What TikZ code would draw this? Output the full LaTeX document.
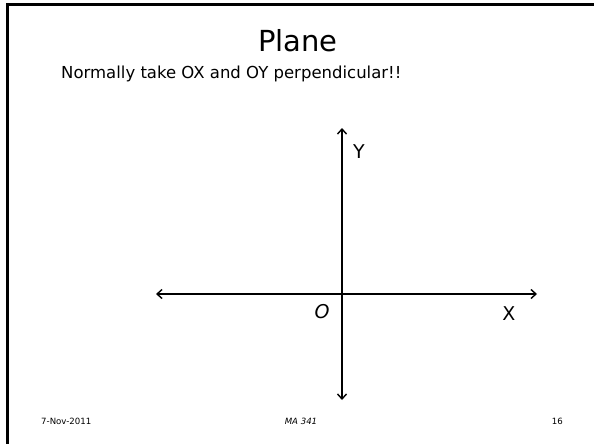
\documentclass[tikz,border=0pt]{standalone}
\usepackage{fontspec}
\setmainfont{DejaVu Sans}
\usetikzlibrary{arrows.meta,positioning}

\begin{document}
\begin{tikzpicture}[x=1pt,y=-1pt,
  axis/.style={line width=1.4pt,{Straight Barb[length=5pt,width=9pt]}-{Straight Barb[length=5pt,width=9pt]}},
  lbl/.style={font=\fontsize{19}{22}\selectfont,inner sep=0pt},
  foot/.style={font=\fontsize{8.6}{10}\selectfont,inner sep=0pt,anchor=base},
]
  % page frame
  \useasboundingbox (0,0) rectangle (594,444);
  \fill[white] (0,0) rectangle (594,444);
  \draw[line width=3pt] (7,444) -- (7,5) -- (594,5);

  % heading
  \node[inner sep=0pt,anchor=base,font=\fontsize{29}{34}\selectfont](title) at (298,52) {Plane};
  \node[inner sep=0pt,anchor=base west,font=\fontsize{16.5}{20}\selectfont](sub) at (61,78)
    {Normally take OX and OY perpendicular!!};

  % axes
  \coordinate (xl) at (156,294);
  \coordinate (xr) at (537,294);
  \coordinate (yt) at (342,128);
  \coordinate (yb) at (342,400);
  \draw[axis] (xl) -- (xr);
  \draw[axis] (yt) -- (yb);

  \node[lbl](Y) at (359,152) {Y};
  \node[lbl](O) at (322,312) {\itshape O};
  \node[lbl](X) at (509,314) {X};

  % footer
  \node[foot,anchor=base west](date) at (41,424) {7-Nov-2011};
  \node[foot](course) at (301,424) {\itshape MA 341};
  \node[foot,anchor=base east](page) at (563,424) {16};

\end{tikzpicture}
\end{document}
